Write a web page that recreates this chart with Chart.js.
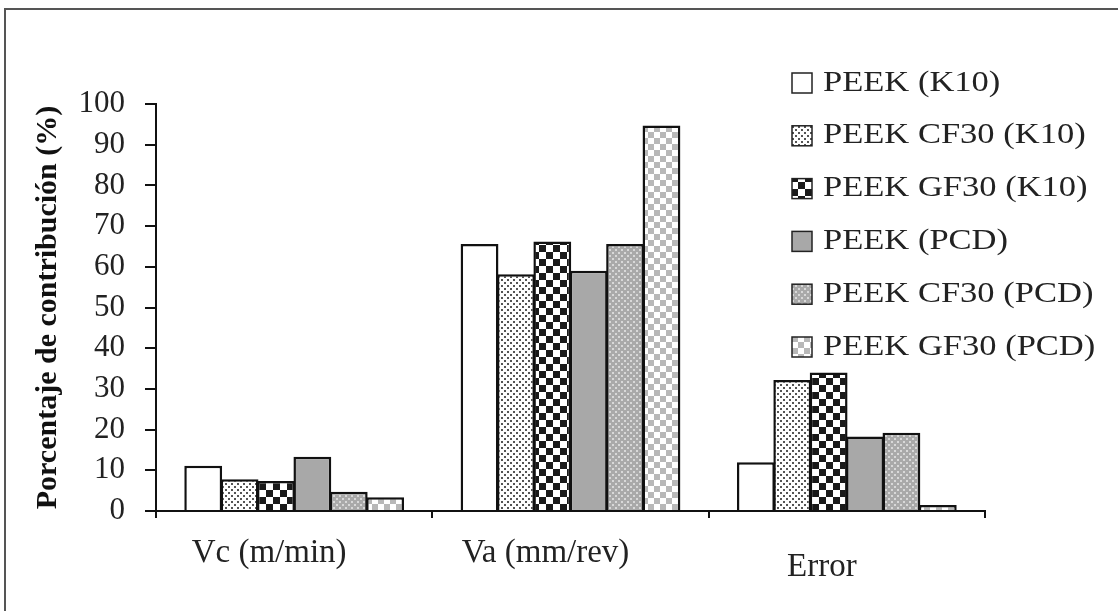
<!DOCTYPE html>
<html>
<head>
<meta charset="utf-8">
<script src="https://cdn.jsdelivr.net/npm/chart.js@4.4.1/dist/chart.umd.min.js"></script>
<style>
  html, body { margin: 0; padding: 0; background: #fff; }
  #wrap { width: 1118px; height: 611px; position: relative; }
</style>
</head>
<body>
<div id="wrap"><canvas id="grafico"></canvas></div>
<script>
// datos
const categorias = ['Vc (m/min)', 'Va (mm/rev)', 'Error'];
const nombresSeries = [
  'PEEK (K10)',
  'PEEK CF30 (K10)',
  'PEEK GF30 (K10)',
  'PEEK (PCD)',
  'PEEK CF30 (PCD)',
  'PEEK GF30 (PCD)'
];
const peekK10 = [11.1, 65.6, 12.0];
const peekCf30K10 = [7.8, 58.2, 32.2];
const peekGf30K10 = [7.4, 66.2, 34.0];
const peekPcd = [13.3, 59.0, 18.3];
const peekCf30Pcd = [4.7, 65.6, 19.2];
const peekGf30Pcd = [3.4, 94.7, 1.5];
const yMin = 0;
const yMax = 100;
const yPaso = 10;

const valores = [peekK10, peekCf30K10, peekGf30K10, peekPcd, peekCf30Pcd, peekGf30Pcd];

// tramas de relleno
function crearTrama(tam, dibujar) {
  const c = document.createElement('canvas');
  c.width = tam;
  c.height = tam;
  const g = c.getContext('2d');
  dibujar(g, tam);
  return g.createPattern(c, 'repeat');
}

const tramas = [
  '#ffffff',
  crearTrama(6, (g, t) => {
    g.fillStyle = '#fff'; g.fillRect(0, 0, t, t);
    g.fillStyle = '#555';
    g.fillRect(0, 0, 2, 2);
    g.fillRect(3, 3, 2, 2);
  }),
  crearTrama(14, (g, t) => {
    g.fillStyle = '#fff'; g.fillRect(0, 0, t, t);
    g.fillStyle = '#1a1a1a';
    g.fillRect(0, 0, 7, 7);
    g.fillRect(7, 7, 7, 7);
  }),
  '#a8a8a8',
  crearTrama(6, (g, t) => {
    g.fillStyle = '#a9a9a9'; g.fillRect(0, 0, t, t);
    g.fillStyle = '#d8d8d8';
    g.fillRect(0, 0, 2, 2);
    g.fillRect(3, 3, 2, 2);
  }),
  crearTrama(12, (g, t) => {
    g.fillStyle = '#fff'; g.fillRect(0, 0, t, t);
    g.fillStyle = '#b8b8b8';
    g.fillRect(0, 0, 6, 6);
    g.fillRect(6, 6, 6, 6);
  })
];

// marco exterior
const marco = {
  id: 'marco',
  beforeDraw(chart) {
    const ctx = chart.ctx;
    ctx.save();
    ctx.fillStyle = '#fff';
    ctx.fillRect(0, 0, chart.width, chart.height);
    ctx.strokeStyle = '#555';
    ctx.lineWidth = 2;
    ctx.beginPath();
    ctx.moveTo(5, chart.height);
    ctx.lineTo(5, 9);
    ctx.lineTo(chart.width, 9);
    ctx.stroke();
    ctx.restore();
  }
};

// leyenda dentro del área, texto algo ensanchado como en la figura
const leyenda = {
  id: 'leyenda',
  afterDraw(chart) {
    const ctx = chart.ctx;
    ctx.save();
    chart.data.datasets.forEach((ds, i) => {
      const y = 83 + i * 52.8;
      ctx.fillStyle = ds.backgroundColor;
      ctx.fillRect(792, y - 10, 20, 20);
      ctx.strokeStyle = '#222';
      ctx.lineWidth = 1.5;
      ctx.strokeRect(792, y - 10, 20, 20);
      ctx.fillStyle = '#222';
      ctx.font = '29px "Liberation Serif"';
      ctx.textBaseline = 'middle';
      ctx.textAlign = 'left';
      ctx.save();
      ctx.translate(823, y);
      ctx.scale(1.19, 1);
      ctx.fillText(ds.label, 0, 0);
      ctx.restore();
    });
    ctx.restore();
  }
};

new Chart(document.getElementById('grafico'), {
  type: 'bar',
  data: {
    labels: categorias,
    datasets: nombresSeries.map((nombre, i) => ({
      label: nombre,
      data: valores[i],
      backgroundColor: tramas[i],
      borderColor: '#111',
      borderWidth: 2.5,
      borderSkipped: 'bottom',
      categoryPercentage: 0.79,
      barPercentage: 1.04
    }))
  },
  options: {
    responsive: true,
    maintainAspectRatio: false,
    animation: false,
    layout: { padding: { top: 104, right: 133, left: 0, bottom: 0 } },
    plugins: {
      legend: { display: false },
      tooltip: { enabled: false }
    },
    scales: {
      x: {
        afterFit(scale) { scale.height = 100; },
        grid: {
          drawOnChartArea: false,
          drawTicks: true,
          tickLength: 7,
          color: '#111',
          lineWidth: 2
        },
        border: { display: true, color: '#111', width: 2 },
        ticks: {
          color: '#222',
          padding: 16,
          labelOffset: -25,
          maxRotation: 0,
          autoSkip: false,
          callback: (v, i) => i === 2 ? ['', categorias[i]] : categorias[i],
          font: (c) => ({
            family: '"Liberation Serif"',
            size: 33,
            lineHeight: c.index === 2 ? '22.5px' : 1.2
          })
        }
      },
      y: {
        min: yMin,
        max: yMax,
        afterFit(scale) { scale.width = 156; },
        grid: {
          drawOnChartArea: false,
          drawTicks: true,
          tickLength: 11,
          color: '#111',
          lineWidth: 2
        },
        border: { display: true, color: '#111', width: 2 },
        ticks: {
          stepSize: yPaso,
          color: '#222',
          padding: 20,
          font: { family: '"Liberation Serif"', size: 31 }
        },
        title: {
          display: true,
          text: 'Porcentaje de contribución (%)',
          color: '#111',
          padding: { top: 30, bottom: 0 },
          font: { family: '"Liberation Serif"', size: 30, weight: 'bold' }
        }
      }
    }
  },
  plugins: [marco, leyenda]
});
</script>
</body>
</html>
